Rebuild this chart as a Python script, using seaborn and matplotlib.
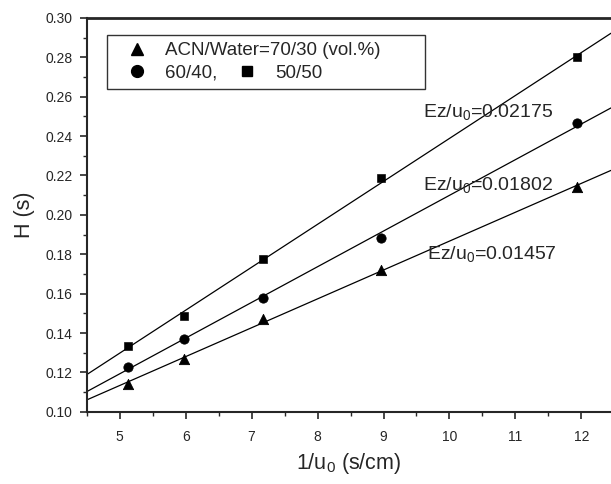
import numpy as np
import pandas as pd
import seaborn as sns
import matplotlib.pyplot as plt
from matplotlib.lines import Line2D
from matplotlib.ticker import MultipleLocator

# 1/u0 values (s/cm)
inv_u0 = [5.12, 5.98, 7.17, 8.96, 11.94]
# plate height H (s) for each ACN/Water ratio
h_70_30 = [0.1143, 0.1268, 0.1473, 0.1720, 0.2143]
h_60_40 = [0.1230, 0.1372, 0.1580, 0.1885, 0.2467]
h_50_50 = [0.1335, 0.1485, 0.1775, 0.2185, 0.2800]
ratios = ['70/30', '60/40', '50/50']
slope_labels = ['0.01457', '0.01802', '0.02175']
label_pos = [(9.66, 0.180), (9.6, 0.215), (9.6, 0.252)]

df = pd.DataFrame({
    'x': inv_u0 * 3,
    'H': h_70_30 + h_60_40 + h_50_50,
    'ratio': [r for r in ratios for _ in inv_u0],
})

sns.set_style('ticks')
plt.rcParams['font.family'] = ['Liberation Sans', 'DejaVu Sans']
plt.rcParams['mathtext.fontset'] = 'custom'
plt.rcParams['mathtext.rm'] = 'Liberation Sans'
plt.rcParams['mathtext.it'] = 'Liberation Sans'

fig = plt.figure(figsize=(6.11, 4.84), dpi=100)
ax = fig.add_axes([0.142, 0.149, 0.858, 0.814])
ax.set_xlim(4.5, 12.45)
ax.set_ylim(0.10, 0.30)

markers = {'70/30': '^', '60/40': 'o', '50/50': 's'}
sizes = {'70/30': 55, '60/40': 45, '50/50': 30}
for r in ratios:
    sub = df[df['ratio'] == r]
    # least-squares line through each series, extended to the axis limits
    sns.regplot(data=sub, x='x', y='H', ax=ax, ci=None, truncate=False,
                scatter=False, color='black', line_kws={'lw': 0.9})
    sns.scatterplot(data=sub, x='x', y='H', ax=ax, marker=markers[r],
                    s=sizes[r], color='black', edgecolor='black', zorder=3)

for txt, (px, py) in zip(slope_labels, label_pos):
    ax.text(px, py, r'Ez/u$_0$=' + txt, fontsize=14, va='center', ha='left')

ax.set_xlabel(r'1/u$_0$ (s/cm)', fontsize=15.5, labelpad=5)
ax.set_ylabel('H (s)', fontsize=15.5, labelpad=8)
ax.xaxis.set_major_locator(MultipleLocator(1))
ax.xaxis.set_minor_locator(MultipleLocator(0.5))
ax.yaxis.set_major_locator(MultipleLocator(0.02))
ax.yaxis.set_minor_locator(MultipleLocator(0.01))
ax.yaxis.set_major_formatter(plt.FormatStrFormatter('%.2f'))
ax.tick_params(which='major', length=5, width=1.2, labelsize=10,
               direction='out', pad=5)
ax.tick_params(axis='x', which='major', pad=8)
ax.tick_params(which='minor', length=3, width=1.0, direction='out')
ax.tick_params(top=False, right=False)
ax.spines['left'].set_linewidth(1.5)
ax.spines['bottom'].set_linewidth(1.5)
ax.spines['top'].set_linewidth(2.0)
ax.spines['right'].set_visible(False)

leg1 = ax.legend(
    [Line2D([], [], marker='^', color='black', ls='none', markersize=9),
     Line2D([], [], marker='o', color='black', ls='none', markersize=8.5)],
    ['ACN/Water=70/30 (vol.%)', '60/40,'],
    loc='upper left', bbox_to_anchor=(0.038, 0.812, 0.607, 0.145),
    mode='expand', fontsize=13.5, frameon=True, fancybox=False,
    edgecolor='black', handlelength=2.4, handletextpad=0.3, borderpad=0.4,
    labelspacing=0.25, borderaxespad=0)
leg1.get_frame().set_linewidth(1.0)
ax.add_artist(leg1)

leg2 = ax.legend(
    [Line2D([], [], marker='s', color='black', ls='none', markersize=6.5)],
    ['50/50'],
    loc='center left', bbox_to_anchor=(0.287, 0.860), fontsize=13.5,
    frameon=False, handlelength=1.0, handletextpad=1.0, borderpad=0,
    borderaxespad=0)

fig.savefig('out.png', dpi=100)
